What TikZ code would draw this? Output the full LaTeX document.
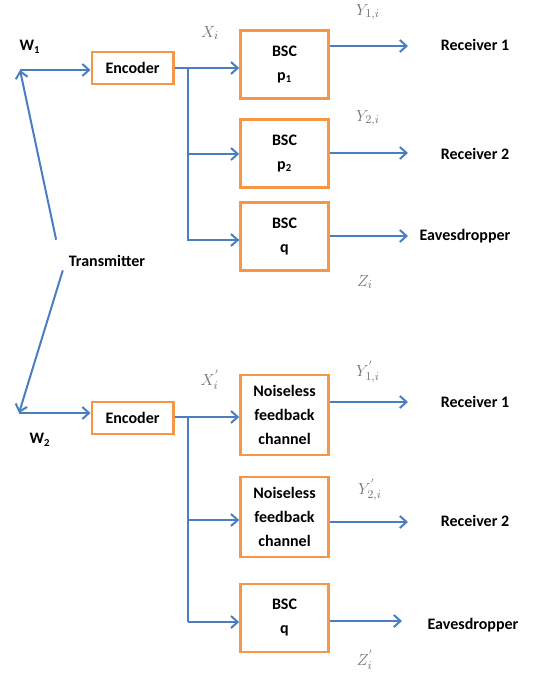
\documentclass[tikz,border=0pt]{standalone}
\usepackage{fontspec}
\setmainfont{Carlito}
\usepackage{xcolor}
\usepackage{tikz}
\usetikzlibrary{positioning, arrows.meta, calc}

\definecolor{linkblue}{RGB}{74,126,193}
\definecolor{boxorange}{RGB}{247,150,70}

\begin{document}
\begin{tikzpicture}[x=0.75pt, y=-0.75pt,
	box/.style={draw=boxorange, line width=2pt, fill=white, align=center, font=\fontsize{12}{18}\selectfont\bfseries},
	encbox/.style={box, minimum width=61pt, minimum height=24pt, inner sep=0pt},
	bscbox/.style={box, minimum width=66pt, minimum height=51pt, inner sep=0pt},
	nfbox/.style={box, minimum width=66pt, minimum height=60pt, inner sep=0pt},
	link/.style={draw=linkblue, line width=1.5pt},
	arr/.style={link, -{Straight Barb[length=5pt, width=9pt, line width=1.5pt]}},
	txt/.style={font=\fontsize{12}{14}\selectfont\bfseries},
	sym/.style={text=black!55, font=\fontsize{12.5}{14}\selectfont}]
	\useasboundingbox (0,0) rectangle (532,677);

	% Transmitter and messages
	\node[txt] (tx) at (107,261) {Transmitter};
	\node[txt] (w1lab) at (30,47) {W\textsubscript{1}};
	\node[txt] (w2lab) at (40,440) {W\textsubscript{2}};
	\coordinate (w1) at (20,70);
	\coordinate (w2) at (19,413);

	% Upper part
	\node[encbox] (enc1) at (132.5,68) {Encoder};
	\node[bscbox] (bsc1) at (284.5,64.5) {BSC\\p\textsubscript{1}};
	\node[bscbox] (bsc2) at (284.5,153.5) {BSC\\p\textsubscript{2}};
	\node[bscbox] (bsc3) at (284.5,236.5) {BSC\\q};
	\node[txt] (rec1) at (475,45) {Receiver 1};
	\node[txt] (rec2) at (475,154) {Receiver 2};
	\node[txt] (eve1) at (465,236) {Eavesdropper};
	\coordinate (t1) at (188,68);
	\coordinate (o1) at (408,46);
	\coordinate (o2) at (408,153);
	\coordinate (o3) at (408,236);

	% Lower part
	\node[encbox] (enc2) at (132.5,418) {Encoder};
	\node[nfbox] (nf1) at (284.5,415) {Noiseless\\feedback\\channel};
	\node[nfbox] (nf2) at (284.5,517) {Noiseless\\feedback\\channel};
	\node[bscbox] (bsc4) at (284.5,618) {BSC\\q};
	\node[txt] (rec3) at (475,402) {Receiver 1};
	\node[txt] (rec4) at (475,521) {Receiver 2};
	\node[txt] (eve2) at (473,625) {Eavesdropper};
	\coordinate (t2) at (188,417);
	\coordinate (o4) at (408,402);
	\coordinate (o5) at (408,522);
	\coordinate (o6) at (402,621);

	% Signal labels
	\node[sym] (x1) at (210,33) {$X_i$};
	\node[sym] (y1) at (368,12) {$Y_{1,i}$};
	\node[sym] (y2) at (368,118) {$Y_{2,i}$};
	\node[sym] (z1) at (365,282) {$Z_i$};
	\node[sym] (x2) at (210,380) {$X_i^{'}$};
	\node[sym] (y3) at (368,372) {$Y_{1,i}^{'}$};
	\node[sym] (y4) at (370,490) {$Y_{2,i}^{'}$};
	\node[sym] (z2) at (365,660) {$Z_i^{'}$};

	% Connections
	\draw[arr] ([xshift=-6pt, yshift=16pt]tx.west) -- (w1);
	\draw[arr] ([xshift=-1pt, yshift=-7pt]tx.west) -- (w2);
	\draw[arr] (w1) -- (w1 -| enc1.west);
	\draw[arr] (w2) -- (w2 -| enc2.west);

	\draw[arr] (t1 -| enc1.east) -- (t1 -| bsc1.west);
	\draw[link] (t1) |- (bsc3.west |- 0,240);
	\draw[arr] (t1 |- 0,154) -- (bsc2.west |- 0,154);
	\draw[arr] (t1 |- 0,240) -- (bsc3.west |- 0,240);
	\draw[arr] (o1 -| bsc1.east) -- (o1);
	\draw[arr] (o2 -| bsc2.east) -- (o2);
	\draw[arr] (o3 -| bsc3.east) -- (o3);

	\draw[arr] (t2 -| enc2.east) -- (t2 -| nf1.west);
	\draw[link] (t2) -- (t2 |- 0,622);
	\draw[arr] (t2 |- 0,520) -- (nf2.west |- 0,520);
	\draw[arr] (t2 |- 0,622) -- (bsc4.west |- 0,622);
	\draw[arr] (o4 -| nf1.east) -- (o4);
	\draw[arr] (o5 -| nf2.east) -- (o5);
	\draw[arr] (o6 -| bsc4.east) -- (o6);
\end{tikzpicture}
\end{document}
